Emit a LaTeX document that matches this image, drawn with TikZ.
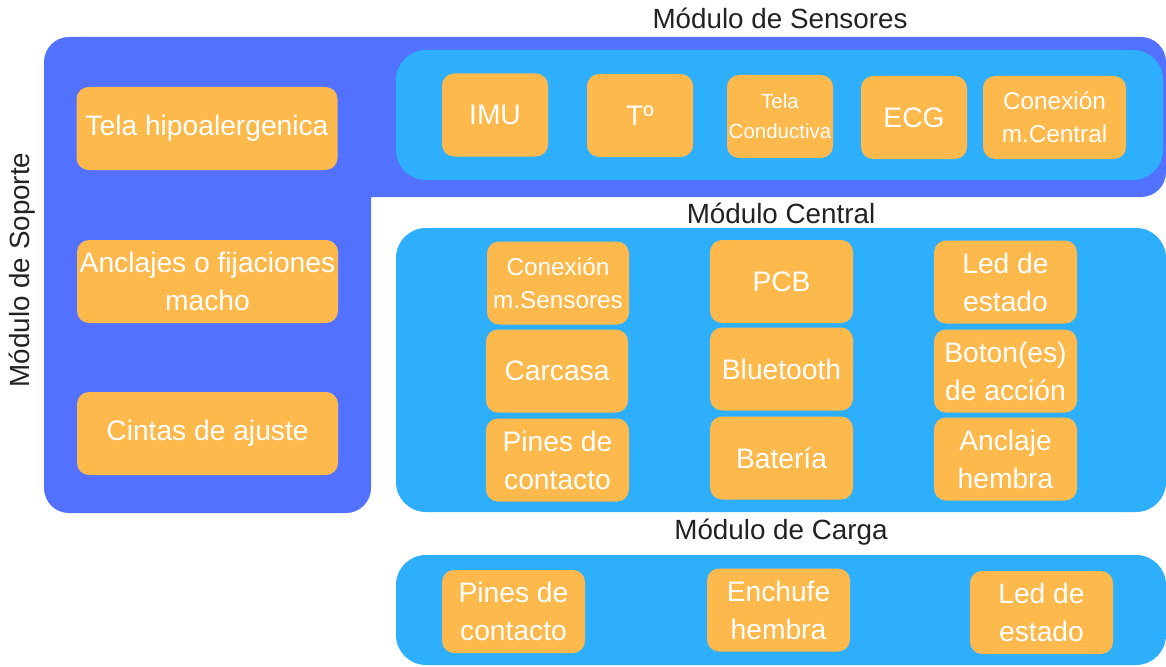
\documentclass[tikz,border=0pt]{standalone}
\usepackage{fontspec}
\setmainfont{Liberation Sans}
\definecolor{dblue}{HTML}{5271FF}
\definecolor{lblue}{HTML}{2EAFFE}
\definecolor{orng}{HTML}{FDB94B}
\definecolor{ttl}{HTML}{222222}
\tikzset{
  box/.style={fill=orng, rounded corners=12pt, text=white, align=center, inner sep=0pt,
    font=\fontsize{28.2}{38}\selectfont},
  wide/.style={box, minimum width=143pt, minimum height=83pt},
  sq/.style={box, minimum width=106pt, minimum height=83pt},
  big/.style={box, minimum width=261pt, minimum height=83pt},
  title/.style={text=ttl, inner sep=0pt, font=\fontsize{27.8}{33}\selectfont},
  panel/.style={fill=lblue, rounded corners=30pt}
}
\begin{document}
\begin{tikzpicture}[x=1pt,y=-1pt]
\clip (0,0) rectangle (1166,666);
\fill[white] (0,0) rectangle (1166,666);
% soporte shape
\fill[dblue, rounded corners=25pt] (44,37) -- (1166,37) -- (1166,197) [sharp corners]-- (371,197) [rounded corners=25pt]-- (371,513) -- (44,513) -- cycle;
% panels
\fill[panel] (396,50) rectangle (1163,180);
\fill[panel] (396,228) rectangle (1166,512);
\fill[panel] (396,555) rectangle (1166,665);
% titles
\node[title] (tsen) at (780,18) {Módulo de Sensores};
\node[title] (tcen) at (781,213) {Módulo Central};
\node[title] (tcar) at (781,532) {Módulo de Carga};
\node[title, rotate=90] (tsop) at (22,270) {Módulo de Soporte};
% soporte
\node[big] (s1) at (207,128.5) {Tela hipoalergenica};
\node[big] (s2) at (207.5,281.5) {Anclajes o fijaciones\\macho};
\node[big] (s3) at (207.5,433.5) {Cintas de ajuste};
% sensores
\node[sq] (e1) at (495,115) {IMU};
\node[sq] (e2) at (640,115.5) {Tº};
\node[sq, font=\fontsize{20.5}{30}\selectfont] (e3) at (780,116.5) {Tela\\Conductiva};
\node[sq] (e4) at (914,117.5) {ECG};
\node[wide, font=\fontsize{24.3}{33}\selectfont] (e5) at (1054.5,117.5) {Conexión\\m.Central};
% central
\node[wide, minimum width=142pt, font=\fontsize{24.3}{33}\selectfont] (c1) at (558,283) {Conexión\\m.Sensores};
\node[wide] (c2) at (781.5,281.5) {PCB};
\node[wide] (c3) at (1005.5,282) {Led de\\estado};
\node[wide, minimum width=142pt] (c4) at (557,371) {Carcasa};
\node[wide] (c5) at (781.5,369) {Bluetooth};
\node[wide] (c6) at (1005.5,371) {Boton(es)\\de acción};
\node[wide] (c7) at (557.5,460) {Pines de\\contacto};
\node[wide] (c8) at (781.5,458) {Batería};
\node[wide] (c9) at (1005.5,459) {Anclaje\\hembra};
% carga
\node[wide] (g1) at (513.5,611.5) {Pines de\\contacto};
\node[wide] (g2) at (778.5,610) {Enchufe\\hembra};
\node[wide] (g3) at (1041.5,612.5) {Led de\\estado};
\end{tikzpicture}
\end{document}
